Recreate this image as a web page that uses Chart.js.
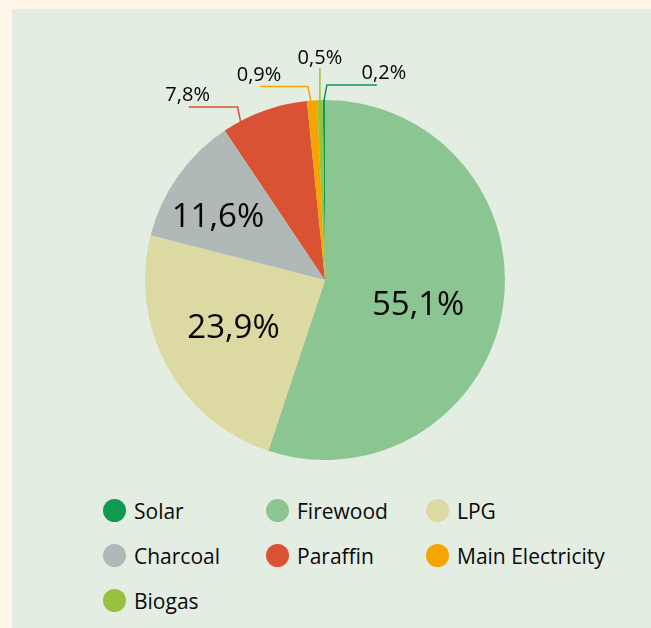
<!DOCTYPE html>
<html>
<head>
<meta charset="utf-8">
<script src="https://cdn.jsdelivr.net/npm/chart.js"></script>
<style>
  html, body { margin: 0; padding: 0; }
  body { width: 651px; height: 628px; background: #fdf6e9; position: relative; overflow: hidden; font-family: "Open Sans", sans-serif; }
  #panel { position: absolute; left: 12px; top: 9px; width: 639px; height: 619px; background: #e3ede2; }
  #wrap { position: absolute; left: 0; top: 0; width: 651px; height: 480px; }
  #legend { position: absolute; left: 103px; top: 488px; display: grid; grid-template-columns: 163px 160px auto; grid-auto-rows: 45px; }
  .item { display: flex; align-items: center; font-size: 21px; color: #0a0a0a; }
  .dot { width: 23px; height: 23px; border-radius: 50%; margin-right: 8px; flex: none; }
</style>
</head>
<body>
<div id="panel"></div>
<div id="wrap"><canvas id="pie"></canvas></div>
<div id="legend"></div>
<script>
var labels = ["Solar", "Firewood", "LPG", "Charcoal", "Paraffin", "Main Electricity", "Biogas"];
var values = [0.2, 55.1, 23.9, 11.6, 7.8, 0.9, 0.5];
var valueText = ["0,2%", "55,1%", "23,9%", "11,6%", "7,8%", "0,9%", "0,5%"];
var colors = ["#0f9a50", "#8bc692", "#ddd9a3", "#b0b9b7", "#d95233", "#f5a400", "#97c23f"];

// where each value label goes: inside the slice, or outside on a leader line
var labelPlace = [
  {out: true, f: 0.5, dx: 3, rise: 15, len: 50, tx: 7},
  {out: false, f: 0.524, r: 0.533},
  {out: false, f: 0.522, r: 0.569},
  {out: false, f: 0.405, r: 0.696},
  {out: true, f: 0.21, dx: -3, rise: 14, len: -49, tx: -1},
  {out: true, f: 0.4, dx: -3, rise: 14, len: -48, tx: -1},
  {out: true, f: 0.5, dx: 0, rise: 32, len: 0, tx: 0}
];

var valueLabels = {
  id: "valueLabels",
  afterDatasetsDraw: function(chart) {
    var ctx = chart.ctx;
    var meta = chart.getDatasetMeta(0);
    ctx.save();
    ctx.fillStyle = "#050505";
    ctx.textAlign = "center";
    ctx.textBaseline = "alphabetic";
    meta.data.forEach(function(arc, i) {
      var p = arc.getProps(["x", "y", "startAngle", "endAngle", "outerRadius"], true);
      var lp = labelPlace[i];
      var a = p.startAngle + (p.endAngle - p.startAngle) * lp.f;
      if (!lp.out) {
        var rr = p.outerRadius * lp.r;
        ctx.font = "33px 'Open Sans'";
        ctx.fillText(valueText[i], p.x + Math.cos(a) * rr, p.y + Math.sin(a) * rr + 12);
        return;
      }
      var x0 = p.x + Math.cos(a) * p.outerRadius;
      var y0 = p.y + Math.sin(a) * p.outerRadius;
      var x1 = x0 + lp.dx, y1 = y0 - lp.rise;
      var x2 = x1 + lp.len;
      ctx.strokeStyle = colors[i];
      ctx.lineWidth = 1.5;
      ctx.beginPath();
      ctx.moveTo(x0, y0 + 1);
      ctx.lineTo(x1, y1);
      ctx.lineTo(x2, y1);
      ctx.stroke();
      ctx.font = "20px 'Open Sans'";
      ctx.fillText(valueText[i], x2 + lp.tx, y1 - (lp.len === 0 ? 4 : 6));
    });
    ctx.restore();
  }
};

var htmlLegend = {
  id: "htmlLegend",
  afterUpdate: function(chart) {
    var box = document.getElementById("legend");
    box.innerHTML = "";
    var items = chart.options.plugins.legend.labels.generateLabels(chart);
    items.forEach(function(it) {
      var d = document.createElement("div");
      d.className = "item";
      var dot = document.createElement("span");
      dot.className = "dot";
      dot.style.background = it.fillStyle;
      d.appendChild(dot);
      d.appendChild(document.createTextNode(it.text));
      box.appendChild(d);
    });
  }
};

new Chart("pie", {
  type: "pie",
  data: {
    labels: labels,
    datasets: [{
      data: values,
      backgroundColor: colors,
      borderWidth: 0
    }]
  },
  options: {
    responsive: true,
    maintainAspectRatio: false,
    animation: false,
    rotation: -values[0] * 3.6,
    layout: {padding: {left: 0, right: 1, top: 100, bottom: 20}},
    plugins: {
      legend: {display: false},
      tooltip: {enabled: false}
    }
  },
  plugins: [valueLabels, htmlLegend]
});
</script>
</body>
</html>
